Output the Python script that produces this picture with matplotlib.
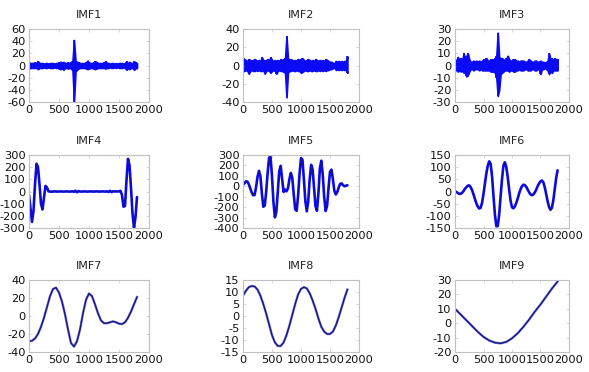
import numpy as np
import matplotlib
matplotlib.use("Agg")
import matplotlib.pyplot as plt

# ---------------- data ----------------
x25 = np.arange(0, 1801, 25)      # sample index, step 25
x50 = np.arange(0, 1801, 50)
x100 = np.arange(0, 1801, 100)

# noisy IMFs: upper / lower envelope per 25-sample bin
imf1_hi = [5, 4, 4, 4, 5, 4, 7, 4, 4, 4, 3, 4, 4, 3, 4, 4, 4, 3, 4, 4, 5, 6, 5, 6, 4,
           4, 5, 4, 6, 8, 42, 8, 6, 5, 4, 4, 4, 4, 5, 8, 5, 4, 4, 5, 7, 6, 4, 4, 4, 4,
           5, 7, 4, 4, 3, 4, 4, 3, 4, 3, 4, 4, 4, 3, 4, 7, 4, 6, 4, 4, 7, 5, 4]
imf1_lo = [-5, -4, -4, -4, -4, -4, -6, -4, -4, -4, -3, -4, -4, -3, -4, -4, -4, -3, -4, -4, -5, -6, -5, -7, -4,
           -4, -5, -4, -5, -8, -60, -10, -7, -5, -4, -4, -4, -4, -5, -6, -5, -4, -4, -5, -6, -5, -4, -4, -4, -4,
           -4, -5, -4, -4, -3, -4, -4, -3, -4, -3, -4, -4, -4, -3, -4, -7, -4, -6, -4, -4, -7, -5, -4]

imf2_hi = [8, 7, 6, 5, 7, 6, 5, 6, 7, 6, 5, 6, 5, 9, 6, 5, 6, 7, 6, 9, 6, 5, 6, 5, 6,
           5, 7, 6, 7, 8, 32, 8, 6, 7, 6, 5, 6, 5, 7, 6, 7, 8, 6, 5, 6, 7, 6, 5, 6, 5,
           7, 6, 5, 6, 5, 6, 5, 7, 6, 5, 4, 4, 3, 2, 5, 4, 5, 4, 5, 4, 5, 5, 10]
imf2_lo = [-6, -6, -5, -6, -9, -6, -5, -6, -6, -5, -6, -5, -6, -6, -5, -9, -6, -5, -6, -8, -6, -5, -6, -9, -6,
           -5, -6, -6, -7, -8, -35, -8, -6, -6, -5, -6, -6, -5, -6, -6, -8, -7, -6, -5, -6, -6, -5, -6, -6, -5,
           -6, -6, -5, -6, -5, -6, -5, -6, -5, -5, -4, -4, -3, -2, -5, -4, -5, -4, -5, -4, -5, -4, -8]

imf3_hi = [5, 4, 7, 5, 6, 4, 10, 6, 8, 10, 5, 3, 3, 4, 3, 4, 3, 4, 3, 4, 5, 4, 6, 4, 4,
           5, 5, 5, 6, 8, 27, 7, 6, 6, 5, 4, 6, 8, 5, 4, 4, 5, 5, 4, 4, 3, 4, 4, 4, 3,
           3, 4, 5, 4, 3, 3, 4, 4, 3, 3, 4, 3, 3, 2, 3, 4, 10, 5, 6, 4, 6, 5, 5]
imf3_lo = [-3, -4, -5, -4, -5, -4, -6, -5, -9, -8, -5, -3, -3, -4, -3, -3, -3, -4, -3, -4, -4, -4, -4, -4, -4,
           -5, -5, -5, -6, -10, -25, -20, -7, -6, -5, -4, -4, -4, -5, -4, -4, -5, -5, -4, -4, -3, -4, -4, -4, -3,
           -3, -4, -4, -4, -3, -3, -4, -4, -3, -3, -7, -3, -3, -2, -3, -4, -7, -5, -6, -4, -4, -4, -4]

imf4 = [-30, -140, -250, -159, 57, 228, 201, 59, -101, -147, -50, 46, 33, 1,
        0, -2, 0, 1, 0, -1, 0, 1, 0, -1, 0, 1, 0, -1, 0, 2, -3, 6, -6, 3,
        0, -1, 0, 1, 0, -1, 0, 1, 0, -1, 0, 1, 0, -1, 0, 1, 0, -1, 2, -4,
        6, -5, 2, 0, 1, 0, 2,
        5, -29, -125, -118, 94, 268, 216, 31, -180, -298, -210, -46]

imf5 = [15, 28, 47, 45, 19, -20, -59, -86, -83, -11, 90, 148, 97, -66, -196, -185, -50, 130,
        275, 282, 95, -152, -298, -245, -50, 145, 196, 70, -55, -32, -48, -19, 68, 128, 81, -79,
        -220, -236, -91, 121, 270, 255, 67, -141, -240, -141, 71, 206, 160, -15, -190, -235, -71,
        167, 245, 113, -103, -237, -187, -14, 137, 160, 68, -43, -79, -55, -12, 23, 28, 10, 1, 5, 10]

imf6 = [0, -2, -6, -10, -9, -5, 2, 11, 18, 24, 25, 18, 5, -12, -31, -49, -62, -70, -67, -46,
        -10, 33, 74, 106, 124, 114, 63, -18, -94, -143, -142, -95, -20, 51, 107, 120, 101, 59, 8,
        -38, -65, -69, -62, -47, -29, -8, 9, 22, 28, 26, 19, 8, -3, -12, -15, -12, -4, 8, 22, 33,
        42, 45, 38, 17, -11, -40, -64, -75, -67, -36, 10, 56, 87]

imf7 = [-28, -27.5, -25, -20, -12, -2, 10, 22, 30, 31.5, 26, 16, 2, -15, -30, -34, -28, -15, 3,
        18, 25, 22, 13, 3, -5, -8, -8, -7, -6, -7, -8.5, -9, -7, -2, 5, 13, 21]

imf8 = [8.5, 10.5, 12, 12.5, 12.3, 11, 8.5, 5, 1, -3.5, -8, -11, -12.5, -12.5, -11, -8, -4, 0.5,
        5, 9, 11.3, 12, 11.5, 9.5, 6.5, 3, -1, -4.5, -6.5, -7.5, -7.5, -6.5, -4, -0.5, 3.5, 7.5, 11]

imf9 = [10, 6, 2, -2, -6, -9.5, -12, -13.5, -14, -13, -10.5, -7, -2.5, 2.5, 8, 13, 18.5, 24, 29]

titles = ["IMF1", "IMF2", "IMF3", "IMF4", "IMF5", "IMF6", "IMF7", "IMF8", "IMF9"]
x_ticks = [0, 500, 1000, 1500, 2000]
y_ticks = [
    [-60, -40, -20, 0, 20, 40, 60],
    [-40, -20, 0, 20, 40],
    [-30, -20, -10, 0, 10, 20, 30],
    [-300, -200, -100, 0, 100, 200, 300],
    [-400, -300, -200, -100, 0, 100, 200, 300],
    [-150, -100, -50, 0, 50, 100, 150],
    [-40, -20, 0, 20, 40],
    [-15, -10, -5, 0, 5, 10, 15],
    [-20, -10, 0, 10, 20, 30],
]

# ---------------- layout ----------------
W, H = 589, 372
fig = plt.figure(figsize=(W / 100, H / 100), dpi=100)
col_left = [29, 243, 455]
col_w = [120, 116, 114]
row_top = [29, 155, 280]
row_h = [73, 73, 72]

BLUE = "#0a0af5"
NAVY = "#15157a"

axes = []
for i in range(9):
    r, c = divmod(i, 3)
    ax = fig.add_axes([col_left[c] / W, 1 - (row_top[r] + row_h[r]) / H,
                       col_w[c] / W, row_h[r] / H])
    axes.append(ax)

noisy = [(imf1_hi, imf1_lo), (imf2_hi, imf2_lo), (imf3_hi, imf3_lo)]
for i, (hi, lo) in enumerate(noisy):
    ax = axes[i]
    ax.fill_between(x25, lo, hi, color=BLUE, lw=1.2, edgecolor=BLUE)
    ax.vlines(x25, lo, hi, color=BLUE, lw=1.2)

for i, y in zip([3, 4, 5], [imf4, imf5, imf6]):
    ax = axes[i]
    ax.plot(x25, y, color=BLUE, lw=1.9, solid_capstyle="round")
    ax.plot(x25, y, color=NAVY, lw=0.8, ls=(0, (2, 2)))

for i, (xx, y) in zip([6, 7, 8], [(x50, imf7), (x50, imf8), (x100, imf9)]):
    ax = axes[i]
    ax.plot(xx, y, color="#3a3ae0", lw=1.8, alpha=0.6)
    ax.plot(xx, y, color=NAVY, lw=1.0)

for i, ax in enumerate(axes):
    yt = y_ticks[i]
    ax.set_xlim(0, 2000)
    ax.set_ylim(yt[0], yt[-1])
    ax.set_xticks(x_ticks)
    ax.set_yticks(yt)
    ax.set_xticklabels([str(v) for v in x_ticks])
    ax.set_yticklabels([str(v) for v in yt])
    ax.set_title(titles[i], fontsize=8, pad=8, color="#222222")
    ax.tick_params(direction="in", length=2, width=0.5, color="#c8c8c8",
                   labelsize=8.2, labelcolor="#111111", pad=2.5,
                   top=True, right=True)
    for s in ax.spines.values():
        s.set_color("#c0c0c0")
        s.set_linewidth(0.8)

fig.savefig("out.png", dpi=100, facecolor="white")
